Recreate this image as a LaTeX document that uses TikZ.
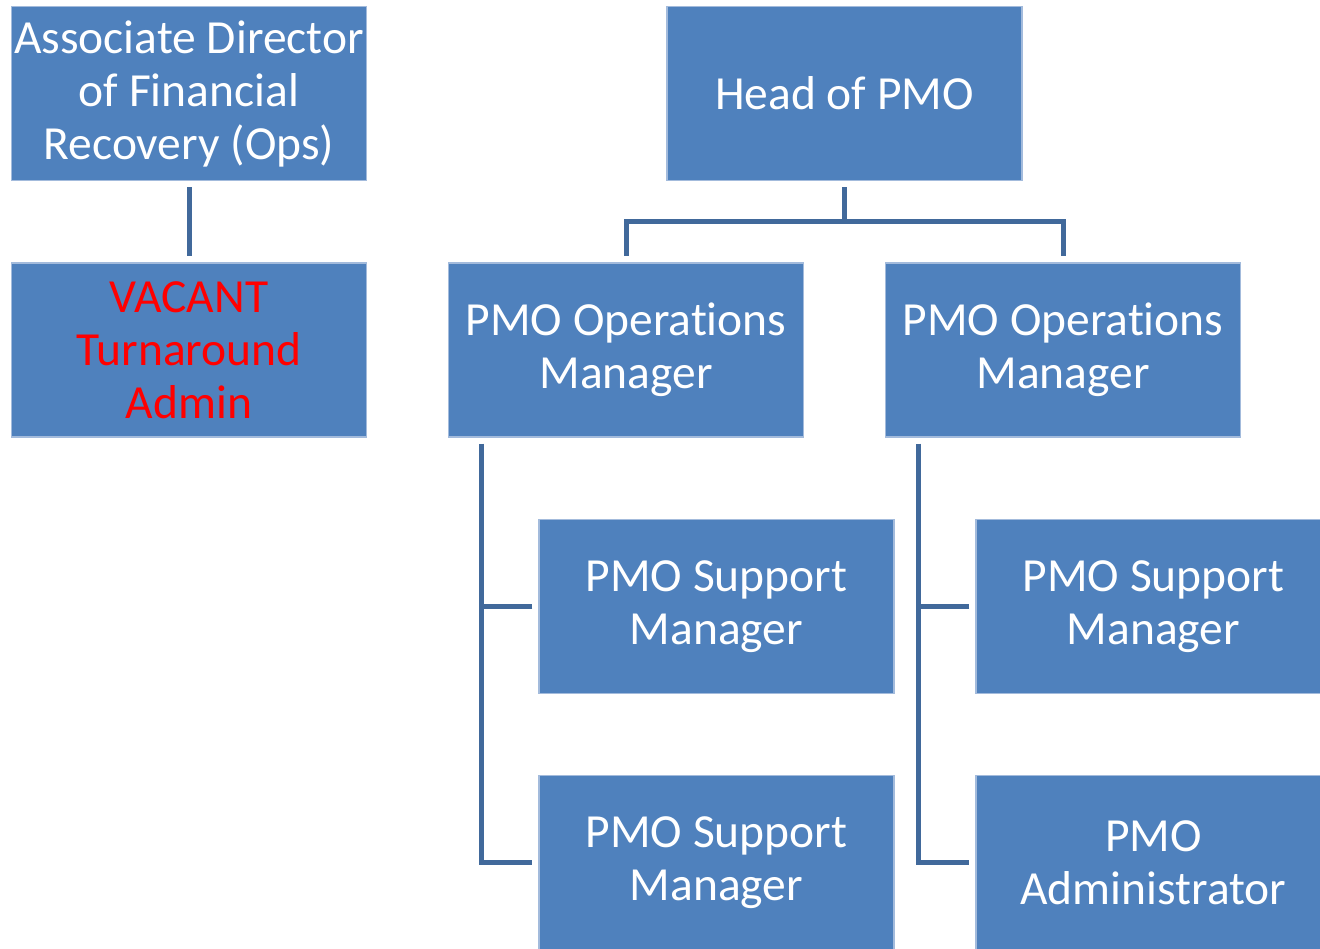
\documentclass[tikz,border=0pt]{standalone}
\usepackage{fontspec}
\setmainfont[Ligatures=NoCommon]{Carlito}
\definecolor{boxfill}{HTML}{4F81BD}
\definecolor{boxedge}{HTML}{A3BBDC}
\definecolor{conncol}{HTML}{41699B}
\definecolor{vacred}{HTML}{FF0000}
\tikzset{
  orgbox/.style={rectangle, fill=boxfill, draw=boxedge, line width=1.2pt,
    minimum width=355pt, minimum height=174pt, inner sep=0pt,
    text=white, align=center, font=\fontsize{47.5}{53}\selectfont},
  conn/.style={draw=conncol, line width=5pt}
}
\begin{document}
\begin{tikzpicture}[x=1pt,y=-1pt]
\useasboundingbox (0,0) rectangle (1320,948);
\clip (0,0) rectangle (1320,948);
\node[orgbox] (assoc) at (189,93.5) {Associate Director\\of Financial\\Recovery (Ops)};
\node[orgbox] (vacant) at (189,350) {\textcolor{vacred}{VACANT}\\\textcolor{vacred}{Turnaround}\\\textcolor{vacred}{Admin}};
\node[orgbox] (head) at (844.5,93.5) {Head of PMO};
\node[orgbox] (ops1) at (626,350) {PMO Operations\\Manager};
\node[orgbox] (ops2) at (1063,350) {PMO Operations\\Manager};
\node[orgbox] (sm1) at (716.5,606.5) {PMO Support\\Manager};
\node[orgbox] (sm2) at (716.5,862.5) {PMO Support\\Manager};
\node[orgbox] (sm3) at (1153.5,606.5) {PMO Support\\Manager};
\node[orgbox] (adm) at (1153.5,862.5) {PMO\\Administrator};

\draw[conn] ([yshift=-6pt]assoc.south) -- ([yshift=6pt]vacant.north);

\coordinate (j) at (844.5,221);
\draw[conn] ([yshift=-6pt]head.south) -- (j);
\draw[conn] (j) -| ([yshift=6pt]ops1.north);
\draw[conn] (j) -| ([yshift=6pt]ops2.north);

\coordinate (t1) at ([xshift=34pt,yshift=-6pt]ops1.south west);
\draw[conn] (t1) |- ([xshift=-6pt]sm2.west);
\draw[conn] ([xshift=-6pt]sm1.west) -- (t1 |- sm1.west);

\coordinate (t2) at ([xshift=34pt,yshift=-6pt]ops2.south west);
\draw[conn] (t2) |- ([xshift=-6pt]adm.west);
\draw[conn] ([xshift=-6pt]sm3.west) -- (t2 |- sm3.west);
\end{tikzpicture}
\end{document}
